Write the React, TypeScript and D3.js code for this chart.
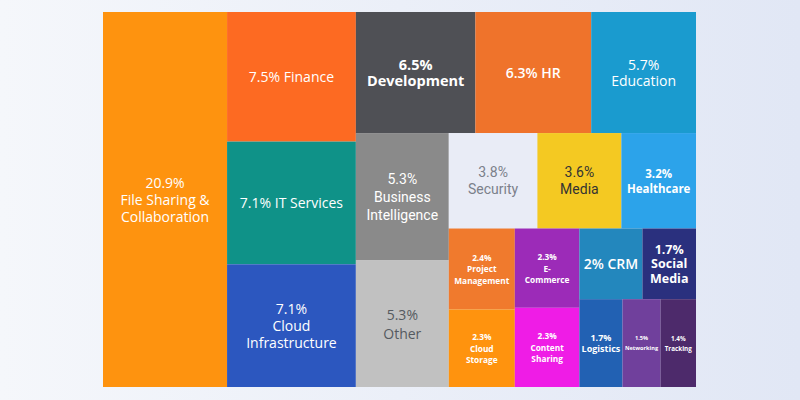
import React from "react";
import * as d3 from "d3";

// ---- data ----
const categories = [
  "File Sharing & Collaboration", "Finance", "IT Services", "Cloud Infrastructure",
  "Development", "HR", "Education", "Business Intelligence", "Other",
  "Security", "Media", "Healthcare", "Project Management", "E-Commerce",
  "Cloud Storage", "Content Sharing", "CRM", "Social Media", "Logistics",
  "Networking", "Tracking",
];
const shares = [20.9, 7.5, 7.1, 7.1, 6.5, 6.3, 5.7, 5.3, 5.3, 3.8, 3.6, 3.2, 2.4, 2.3, 2.3, 2.3, 2, 1.7, 1.7, 1.5, 1.4];
// label line templates ({v} = share)
const labelLines = [
  ["{v}", "File Sharing &", "Collaboration"],
  ["{v} Finance"],
  ["{v} IT Services"],
  ["{v}", "Cloud", "Infrastructure"],
  ["{v}", "Development"],
  ["{v} HR"],
  ["{v}", "Education"],
  ["{v}", "Business", "Intelligence"],
  ["{v}", "Other"],
  ["{v}", "Security"],
  ["{v}", "Media"],
  ["{v}", "Healthcare"],
  ["{v}", "Project", "Management"],
  ["{v}", "E-", "Commerce"],
  ["{v}", "Cloud", "Storage"],
  ["{v}", "Content", "Sharing"],
  ["{v} CRM"],
  ["{v}", "Social", "Media"],
  ["{v}", "Logistics"],
  ["{v}", "Networking"],
  ["{v}", "Tracking"],
];
// grouping of categories (by index); dir: x = side by side, y = stacked
type G = { dir: "x" | "y"; children: (number | G)[] };
const grouping: G = {
  dir: "x",
  children: [
    0,
    { dir: "y", children: [1, 2, 3] },
    {
      dir: "y",
      children: [
        { dir: "x", children: [4, 5, 6] },
        {
          dir: "x",
          children: [
            { dir: "y", children: [7, 8] },
            {
              dir: "y",
              children: [
                { dir: "x", children: [9, 10, 11] },
                {
                  dir: "x",
                  children: [
                    { dir: "x", children: [{ dir: "y", children: [12, 14] }, { dir: "y", children: [13, 15] }] },
                    { dir: "y", children: [{ dir: "x", children: [16, 17] }, { dir: "x", children: [18, 19, 20] }] },
                  ],
                },
              ],
            },
          ],
        },
      ],
    },
  ],
};

// ---- styles ----
const fills = [
  "#fe930f", "#fd6a22", "#0f9288", "#2c57bf", "#4f5055", "#ef732b", "#1a9bcf",
  "#8a8a8a", "#c1c1c1", "#e9ecf6", "#f4c922", "#2ca3ea", "#f07a2d", "#9c2bb8",
  "#ff930e", "#ef1ce6", "#2387bd", "#2a307e", "#2261b3", "#70409c", "#4d2a6b",
];
const textColors = [
  "#fff", "#fff", "#fff", "#fff", "#fff", "#fff", "#fff", "#fff", "#555a60", "#7b808a",
  "#333", "#fff", "#fff", "#fff", "#fff", "#fff", "#fff", "#fff", "#fff", "#fff", "#fff",
];
type TS = { font: string; size: number; weight: number; lh: number };
const OS = "'Open Sans', sans-serif";
const RB = "Roboto, sans-serif";
const textStyles: TS[] = [
  { font: OS, size: 14, weight: 400, lh: 17 },
  { font: OS, size: 14, weight: 400, lh: 17 },
  { font: OS, size: 14, weight: 400, lh: 17 },
  { font: OS, size: 14, weight: 400, lh: 17 },
  { font: OS, size: 14.5, weight: 700, lh: 16 },
  { font: OS, size: 14, weight: 600, lh: 16 },
  { font: OS, size: 14, weight: 400, lh: 16 },
  { font: RB, size: 14, weight: 400, lh: 18 },
  { font: OS, size: 14, weight: 400, lh: 19 },
  { font: RB, size: 14, weight: 400, lh: 17 },
  { font: RB, size: 14, weight: 400, lh: 17 },
  { font: OS, size: 11.5, weight: 700, lh: 15 },
  { font: OS, size: 8.3, weight: 700, lh: 11.3 },
  { font: OS, size: 8.3, weight: 700, lh: 11.3 },
  { font: OS, size: 8.3, weight: 700, lh: 11.5 },
  { font: OS, size: 8.3, weight: 700, lh: 11.5 },
  { font: OS, size: 14, weight: 600, lh: 16 },
  { font: OS, size: 12.5, weight: 700, lh: 14.5 },
  { font: OS, size: 9, weight: 700, lh: 11 },
  { font: OS, size: 5.6, weight: 700, lh: 10 },
  { font: OS, size: 6.3, weight: 700, lh: 10 },
];

const W = 800;
const H = 400;
const X0 = 103, Y0 = 12, X1 = 696, Y1 = 387;

type Node = { dir?: "x" | "y"; idx?: number; children?: Node[] };
function build(g: number | G): Node {
  if (typeof g === "number") return { idx: g };
  return { dir: g.dir, children: g.children.map(build) };
}

export default function App() {
  const root = d3
    .hierarchy<Node>(build(grouping))
    .sum((d) => (d.idx !== undefined ? shares[d.idx] : 0));
  const tile = (node: any, x0: number, y0: number, x1: number, y1: number) => {
    if (node.data.dir === "x") d3.treemapDice(node, x0, y0, x1, y1);
    else d3.treemapSlice(node, x0, y0, x1, y1);
  };
  const laid = d3.treemap<Node>().tile(tile as any).size([X1 - X0, Y1 - Y0]).round(false)(root);
  const leaves = laid.leaves();

  return (
    <svg width={W} height={H} style={{ position: "fixed", left: 0, top: 0 }}>
      <defs>
        <linearGradient id="bg" x1="0" y1="0" x2="1" y2="0">
          <stop offset="0" stopColor="#f5f7fb" />
          <stop offset="1" stopColor="#e1e7f5" />
        </linearGradient>
      </defs>
      <rect x={0} y={0} width={W} height={H} fill="url(#bg)" />
      <g transform={`translate(${X0},${Y0})`}>
        {leaves.map((lf) => {
          const i = lf.data.idx as number;
          const st = textStyles[i];
          const lines = labelLines[i].map((l) => l.replace("{v}", `${shares[i]}%`));
          const cx = (lf.x0 + lf.x1) / 2;
          const cy = (lf.y0 + lf.y1) / 2;
          return (
            <g key={categories[i]}>
              <rect x={lf.x0} y={lf.y0} width={lf.x1 - lf.x0} height={lf.y1 - lf.y0} fill={fills[i]} />
              <text
                textAnchor="middle"
                fontFamily={st.font}
                fontSize={st.size}
                fontWeight={st.weight}
                fill={textColors[i]}
              >
                {lines.map((l, k) => (
                  <tspan key={k} x={cx} y={cy + (k - (lines.length - 1) / 2) * st.lh} dominantBaseline="central">
                    {l}
                  </tspan>
                ))}
              </text>
            </g>
          );
        })}
      </g>
    </svg>
  );
}
